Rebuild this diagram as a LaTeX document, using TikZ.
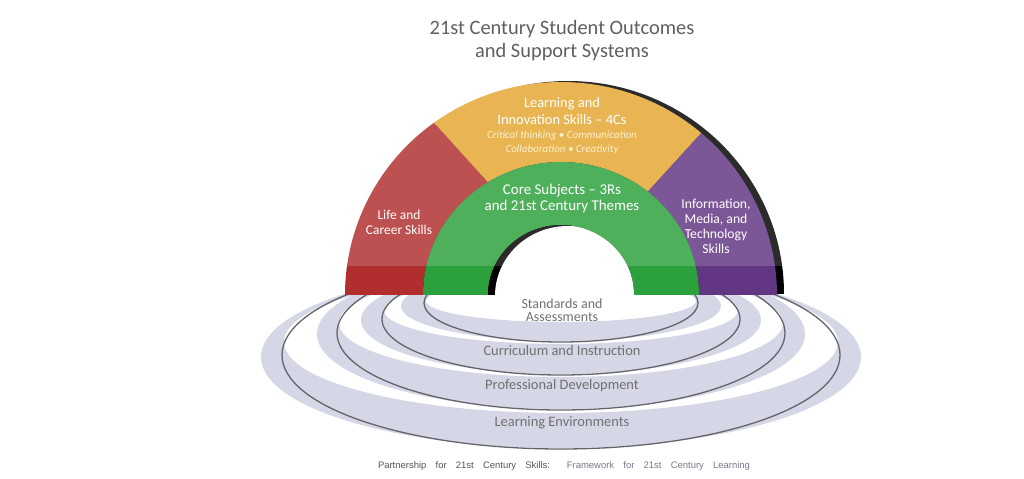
\documentclass[tikz,border=0pt]{standalone}
\usepackage{fontspec}
\setmainfont{Carlito}
\newfontfamily\footfont{Liberation Sans}
\usetikzlibrary{calc}
\definecolor{rbred}{RGB}{176,46,46}
\definecolor{rbyellow}{RGB}{228,166,48}
\definecolor{rbgreen}{RGB}{44,160,60}
\definecolor{rbpurple}{RGB}{98,54,130}
\definecolor{ringfill}{RGB}{214,215,230}
\definecolor{ringedge}{RGB}{100,100,106}
\definecolor{labelgray}{RGB}{112,112,112}
\definecolor{titlegray}{RGB}{96,96,96}
\definecolor{footdark}{RGB}{85,85,85}
\definecolor{footlight}{RGB}{120,120,138}
\definecolor{paleyellow}{RGB}{252,240,205}
\tikzset{
  ringband/.style={fill=ringfill, even odd rule},
  ringline/.style={draw=ringedge, line width=1.3bp},
  ringlabel/.style={text=labelgray, align=center, inner sep=0pt, font=\fontsize{14.5}{13.5}\selectfont},
  arclabel/.style={text=white, align=center, inner sep=0pt},
  titlestyle/.style={text=titlegray, align=center, inner sep=0pt, font=\fontsize{20.5}{23}\selectfont},
}
\begin{document}
\begin{tikzpicture}[x=1bp,y=-1bp]
\useasboundingbox (0,0) rectangle (1024,479);
\fill[white] (0,0) rectangle (1024,479);

% ---- support-system rings (below the arch base)
\begin{scope}
\clip (0,295) rectangle (1024,479);
% ring 1: Learning Environments
\fill[ringband] (561,357) ellipse [x radius=300, y radius=91]
                (561,342) ellipse [x radius=277, y radius=71];
\draw[ringline] (561,355) ellipse [x radius=279, y radius=94];
% ring 2: Professional Development
\fill[ringband] (561,334) ellipse [x radius=244, y radius=75]
                (561,323) ellipse [x radius=222, y radius=54];
\draw[ringline] (561,333) ellipse [x radius=224, y radius=77];
% ring 3: Curriculum and Instruction
\fill[ringband] (561,320) ellipse [x radius=200, y radius=54]
                (561,310.5) ellipse [x radius=177, y radius=33.5];
\draw[ringline] (561,319) ellipse [x radius=179, y radius=56];
% ring 4: Standards and Assessments
\fill[ringband] (561,306) ellipse [x radius=160, y radius=35]
                (561,301) ellipse [x radius=135, y radius=21];
\draw[ringline] (561,303) ellipse [x radius=137, y radius=39];
\end{scope}

% ---- arch
% black edge on the right
\fill[black] (568-216,294) arc[start angle=-180, end angle=0, x radius=216, y radius=213] -- cycle;
% red
\fill[rbred] (561-216,295) arc[start angle=-180, end angle=-126, x radius=216, y radius=213]
  -- ([shift={(561,295)}]-122:138 and 133)
  arc[start angle=-122, end angle=-180, x radius=138, y radius=133] -- cycle;
% yellow
\fill[rbyellow] ([shift={(561,295)}]-126:216 and 213)
  arc[start angle=-126, end angle=-49.5, x radius=216, y radius=213]
  -- ([shift={(561,295)}]-51:138 and 133)
  arc[start angle=-51, end angle=-122, x radius=138, y radius=133] -- cycle;
% purple
\fill[rbpurple] ([shift={(561,295)}]-49.5:216 and 213)
  arc[start angle=-49.5, end angle=0, x radius=216, y radius=213]
  -- (561+138,295)
  arc[start angle=0, end angle=-51, x radius=138, y radius=133] -- cycle;
% green
\fill[rbgreen] (561-138,295) arc[start angle=-180, end angle=0, x radius=138, y radius=133]
  -- (561+73,295) arc[start angle=0, end angle=-180, x radius=73, y radius=70] -- cycle;
% shadow inside the opening
\begin{scope}
\clip (561-73,295) arc[start angle=-180, end angle=0, x radius=73, y radius=70] -- cycle;
\fill[black] (561-73,295) arc[start angle=-180, end angle=0, x radius=73, y radius=70] -- cycle;
\fill[white] (568-73,296) arc[start angle=-180, end angle=0, x radius=73, y radius=70] -- cycle;
\end{scope}
% pale veil over the upper part of the picture
\fill[white, opacity=0.17] (330,60) rectangle (800,266);

% ---- arch labels
\node[arclabel, font=\fontsize{14.5}{16.5}\selectfont] (lis) at (562,111) {Learning and\\Innovation Skills – 4Cs};
\node[arclabel, text=paleyellow, font=\itshape\fontsize{11}{13.5}\selectfont] (cc) at (562,142.5) {Critical thinking • Communication\\Collaboration • Creativity};
\node[arclabel, font=\fontsize{15}{15.5}\selectfont] (core) at (562,198.5) {Core Subjects – 3Rs\\and 21st Century Themes};
\node[arclabel, font=\fontsize{13.5}{15}\selectfont] (life) at (399,222.5) {Life and\\Career Skills};
\node[arclabel, font=\fontsize{13.7}{15}\selectfont] (imt) at (716,226.5) {Information,\\Media, and\\Technology\\Skills};

% ---- title
\node[titlestyle] (title) at (562,40.5) {21st Century Student Outcomes\\and Support Systems};

% ---- ring labels
\node[ringlabel, font=\fontsize{14}{13.5}\selectfont] (sa) at (562,310) {Standards and\\Assessments};
\node[ringlabel] (ci) at (562,351) {Curriculum and Instruction};
\node[ringlabel] (pd) at (562,386) {Professional Development};
\node[ringlabel] (le) at (562,423) {Learning Environments};

% ---- footer
\node[inner sep=0pt, font=\footfont\fontsize{9.5}{11}\selectfont] (foot) at (564,466)
  {\makebox[372bp][s]{\color{footdark}Partnership for 21st Century Skills: \color{footlight}Framework for 21st Century Learning}};
\end{tikzpicture}
\end{document}
